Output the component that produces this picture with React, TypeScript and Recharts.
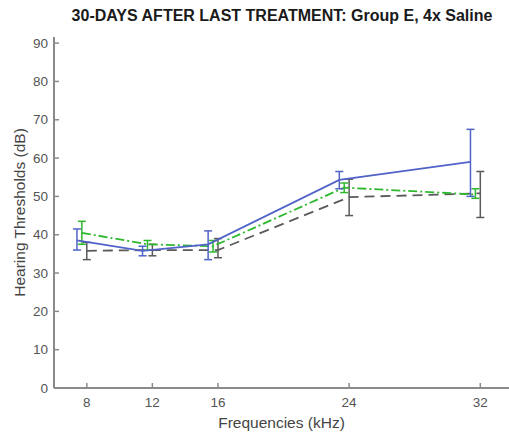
import { ComposedChart, Line, XAxis, YAxis, ErrorBar, Label } from "recharts";

const FREQS = [8, 12, 16, 24, 32];
const Y_TICKS = [0, 10, 20, 30, 40, 50, 60, 70, 80, 90];

// mean thresholds (dB) and error bar ends
const BLUE_MEAN = [38.5, 35.8, 37.5, 54.3, 59];
const BLUE_LO = [36, 34.5, 33.5, 52, 50];
const BLUE_HI = [41.5, 37, 41, 56.5, 67.5];

const GREEN_MEAN = [40.5, 37.5, 37, 52.3, 50.5];
const GREEN_LO = [37.5, 36, 35.5, 51, 49.5];
const GREEN_HI = [43.5, 38.5, 38.5, 53.5, 52];

const GRAY_MEAN = [35.8, 36, 36, 49.8, 50.8];
const GRAY_LO = [33.5, 34.5, 34, 45, 44.5];
const GRAY_HI = [38, 37.5, 39, 54.5, 56.5];

// small horizontal shift (kHz) so the error bars don't overlap
const SHIFT = { blue: -0.6, green: -0.3, gray: 0 };

const build = (mean: number[], lo: number[], hi: number[], shift: number) =>
  FREQS.map((f, i) => ({
    f: f + shift,
    v: mean[i],
    err: [mean[i] - lo[i], hi[i] - mean[i]],
  }));

const blue = build(BLUE_MEAN, BLUE_LO, BLUE_HI, SHIFT.blue);
const green = build(GREEN_MEAN, GREEN_LO, GREEN_HI, SHIFT.green);
const gray = build(GRAY_MEAN, GRAY_LO, GRAY_HI, SHIFT.gray);

const FONT = "'Liberation Sans', Arial, Helvetica, sans-serif";
const AXIS = "#8a8a8a";
const TXT = "#555";

const YTick = (p: any) => (
  <g>
    <line x1={p.x + 6} x2={p.x + 11} y1={p.y} y2={p.y} stroke={AXIS} strokeWidth={1.5} />
    <text x={p.x} y={p.y} dy={4.5} textAnchor="end" fill={TXT} fontSize={13.5} fontFamily={FONT}>
      {p.payload.value}
    </text>
  </g>
);

const XTick = (p: any) => (
  <g>
    <line x1={p.x} x2={p.x} y1={p.y - 2} y2={p.y - 7} stroke={AXIS} strokeWidth={1.5} />
    <text x={p.x} y={p.y} dy={17} textAnchor="middle" fill={TXT} fontSize={13.5} fontFamily={FONT}>
      {p.payload.value}
    </text>
  </g>
);

export default function App() {
  return (
    <div style={{ position: "fixed", left: 0, top: 0, width: 509, height: 436, background: "#fff" }}>
      <ComposedChart width={509} height={436} margin={{ top: 37, right: 0, left: 0, bottom: 0 }}>
        <text
          x={282}
          y={21}
          textAnchor="middle"
          fontSize={16}
          fontWeight="bold"
          fontFamily={FONT}
          fill="#1a1a1a"
        >
          30-DAYS AFTER LAST TREATMENT: Group E, 4x Saline
        </text>
        <XAxis
          dataKey="f"
          type="number"
          domain={[6, 33.75]}
          ticks={FREQS}
          allowDataOverflow
          height={48}
          stroke={AXIS}
          strokeWidth={2}
          tickLine={false}
          tickSize={0}
          tickMargin={2}
          tick={<XTick />}
        >
          <Label
            value="Frequencies (kHz)"
            position="insideBottom"
            offset={8}
            fill="#444"
            fontSize={15.5}
            fontFamily={FONT}
          />
        </XAxis>
        <YAxis
          type="number"
          domain={[0, 91.6]}
          ticks={Y_TICKS}
          allowDataOverflow
          width={54}
          stroke={AXIS}
          strokeWidth={2}
          tickLine={false}
          tickSize={0}
          tickMargin={6}
          tick={<YTick />}
        >
          <Label
            value="Hearing Thresholds (dB)"
            angle={-90}
            position="insideLeft"
            offset={19}
            style={{ textAnchor: "middle" }}
            fill="#444"
            fontSize={15.5}
            fontFamily={FONT}
          />
        </YAxis>
        <Line
          data={gray}
          dataKey="v"
          stroke="#5a5a5a"
          strokeWidth={1.8}
          strokeDasharray="10 6"
          dot={false}
          isAnimationActive={false}
        >
          <ErrorBar dataKey="err" width={4} stroke="#5a5a5a" strokeWidth={1.5} direction="y" />
        </Line>
        <Line
          data={green}
          dataKey="v"
          stroke="#2eb82e"
          strokeWidth={1.8}
          strokeDasharray="9 3 2 3"
          dot={false}
          isAnimationActive={false}
        >
          <ErrorBar dataKey="err" width={4} stroke="#2eb82e" strokeWidth={1.5} direction="y" />
        </Line>
        <Line
          data={blue}
          dataKey="v"
          stroke="#5263c8"
          strokeWidth={1.8}
          dot={false}
          isAnimationActive={false}
        >
          <ErrorBar dataKey="err" width={4} stroke="#5263c8" strokeWidth={1.5} direction="y" />
        </Line>
      </ComposedChart>
    </div>
  );
}
